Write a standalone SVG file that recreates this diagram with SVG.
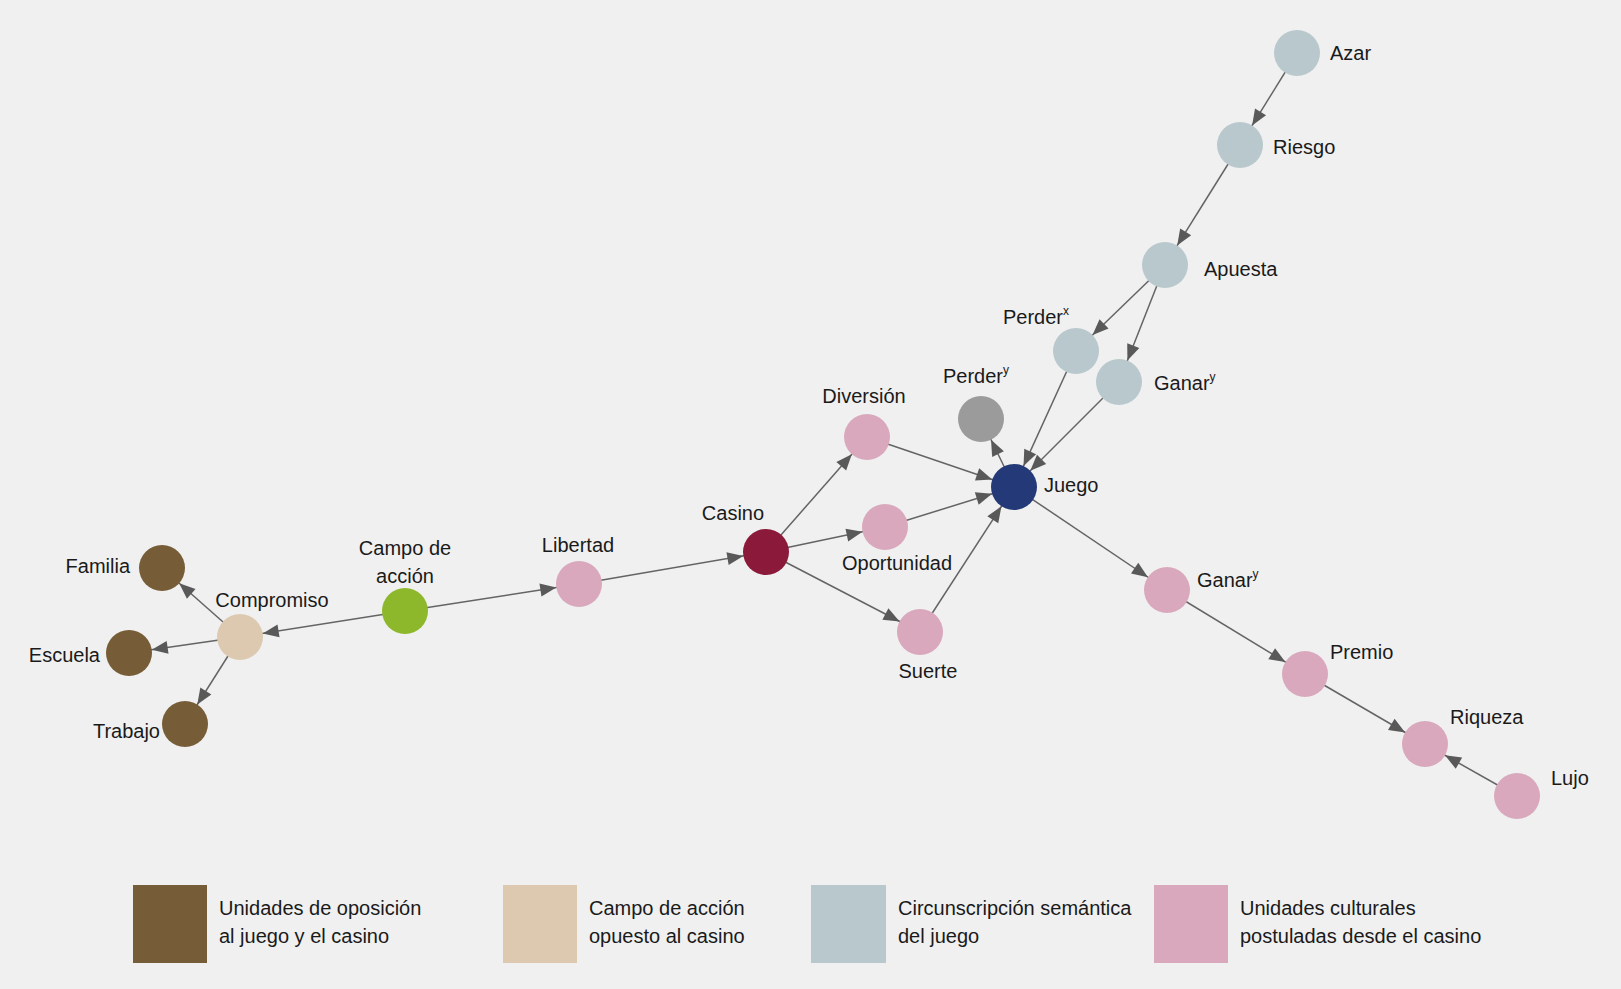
<svg xmlns="http://www.w3.org/2000/svg" width="1621" height="989" viewBox="0 0 1621 989">
<style>
text{font-family:"Liberation Sans",Arial,sans-serif;font-size:20px;fill:#1a1a1a}
.sup{font-size:12px}
.e line{stroke:#646464;stroke-width:1.5;marker-end:url(#arr)}
.brown{fill:#765C37}.beige{fill:#DDC9B0}.blue{fill:#B8C8CD}.pink{fill:#D9A8BC}
.green{fill:#8DB82B}.casino{fill:#8B1A3A}.juego{fill:#243A78}.grey{fill:#9B9B9B}
</style>
<defs>
<marker id="arr" markerUnits="userSpaceOnUse" markerWidth="16" markerHeight="14" refX="39" refY="6.5" orient="auto" overflow="visible">
<path d="M0,0 L16,6.5 L0,13 z" fill="#595959"/>
</marker>
</defs>
<rect x="0" y="0" width="1621" height="989" fill="#F0F0F0"/>
<g id="edges" class="e">
<line x1="1297" y1="53" x2="1240" y2="145"/>
<line x1="1240" y1="145" x2="1165" y2="265"/>
<line x1="1165" y1="265" x2="1076" y2="351"/>
<line x1="1165" y1="265" x2="1119" y2="382"/>
<line x1="1076" y1="351" x2="1014" y2="487"/>
<line x1="1119" y1="382" x2="1014" y2="487"/>
<line x1="1014" y1="487" x2="981" y2="419"/>
<line x1="867" y1="437" x2="1014" y2="487"/>
<line x1="885" y1="527" x2="1014" y2="487"/>
<line x1="920" y1="632" x2="1014" y2="487"/>
<line x1="766" y1="552" x2="867" y2="437"/>
<line x1="766" y1="552" x2="885" y2="527"/>
<line x1="766" y1="552" x2="920" y2="632"/>
<line x1="579" y1="584" x2="766" y2="552"/>
<line x1="405" y1="611" x2="579" y2="584"/>
<line x1="405" y1="611" x2="240" y2="637"/>
<line x1="240" y1="637" x2="162" y2="568"/>
<line x1="240" y1="637" x2="129" y2="653"/>
<line x1="240" y1="637" x2="185" y2="724"/>
<line x1="1014" y1="487" x2="1167" y2="590"/>
<line x1="1167" y1="590" x2="1305" y2="674"/>
<line x1="1305" y1="674" x2="1425" y2="744"/>
<line x1="1517" y1="796" x2="1425" y2="744"/>
</g>
<g id="azar"><circle class="blue" cx="1297" cy="53" r="23"/><text x="1330" y="60">Azar</text></g>
<g id="riesgo"><circle class="blue" cx="1240" cy="145" r="23"/><text x="1273" y="154">Riesgo</text></g>
<g id="apuesta"><circle class="blue" cx="1165" cy="265" r="23"/><text x="1204" y="276">Apuesta</text></g>
<g id="perder-x"><circle class="blue" cx="1076" cy="351" r="23"/><text x="1003" y="324">Perder<tspan class="sup" dy="-9">x</tspan></text></g>
<g id="ganar-y-azul"><circle class="blue" cx="1119" cy="382" r="23"/><text x="1154" y="390">Ganar<tspan class="sup" dy="-9">y</tspan></text></g>
<g id="perder-y"><circle class="grey" cx="981" cy="419" r="23"/><text x="943" y="383">Perder<tspan class="sup" dy="-9">y</tspan></text></g>
<g id="juego"><circle class="juego" cx="1014" cy="487" r="23"/><text x="1044" y="492">Juego</text></g>
<g id="diversion"><circle class="pink" cx="867" cy="437" r="23"/><text x="864" y="403" text-anchor="middle">Diversión</text></g>
<g id="oportunidad"><circle class="pink" cx="885" cy="527" r="23"/><text x="897" y="570" text-anchor="middle">Oportunidad</text></g>
<g id="suerte"><circle class="pink" cx="920" cy="632" r="23"/><text x="928" y="678" text-anchor="middle">Suerte</text></g>
<g id="casino"><circle class="casino" cx="766" cy="552" r="23"/><text x="733" y="520" text-anchor="middle">Casino</text></g>
<g id="libertad"><circle class="pink" cx="579" cy="584" r="23"/><text x="578" y="552" text-anchor="middle">Libertad</text></g>
<g id="campo"><circle class="green" cx="405" cy="611" r="23"/><text x="405" y="555" text-anchor="middle">Campo de</text><text x="405" y="583" text-anchor="middle">acción</text></g>
<g id="compromiso"><circle class="beige" cx="240" cy="637" r="23"/><text x="272" y="607" text-anchor="middle">Compromiso</text></g>
<g id="familia"><circle class="brown" cx="162" cy="568" r="23"/><text x="130" y="573" text-anchor="end">Familia</text></g>
<g id="escuela"><circle class="brown" cx="129" cy="653" r="23"/><text x="100" y="662" text-anchor="end">Escuela</text></g>
<g id="trabajo"><circle class="brown" cx="185" cy="724" r="23"/><text x="160" y="738" text-anchor="end">Trabajo</text></g>
<g id="ganar-y-rosa"><circle class="pink" cx="1167" cy="590" r="23"/><text x="1197" y="587">Ganar<tspan class="sup" dy="-9">y</tspan></text></g>
<g id="premio"><circle class="pink" cx="1305" cy="674" r="23"/><text x="1330" y="659">Premio</text></g>
<g id="riqueza"><circle class="pink" cx="1425" cy="744" r="23"/><text x="1450" y="724">Riqueza</text></g>
<g id="lujo"><circle class="pink" cx="1517" cy="796" r="23"/><text x="1551" y="785">Lujo</text></g>
<g id="legend">
<rect class="brown" x="133" y="885" width="74" height="78"/>
<text x="219" y="915">Unidades de oposición</text><text x="219" y="943">al juego y el casino</text>
<rect class="beige" x="503" y="885" width="74" height="78"/>
<text x="589" y="915">Campo de acción</text><text x="589" y="943">opuesto al casino</text>
<rect class="blue" x="811" y="885" width="75" height="78"/>
<text x="898" y="915">Circunscripción semántica</text><text x="898" y="943">del juego</text>
<rect class="pink" x="1154" y="885" width="74" height="78"/>
<text x="1240" y="915">Unidades culturales</text><text x="1240" y="943">postuladas desde el casino</text>
</g>
</svg>
